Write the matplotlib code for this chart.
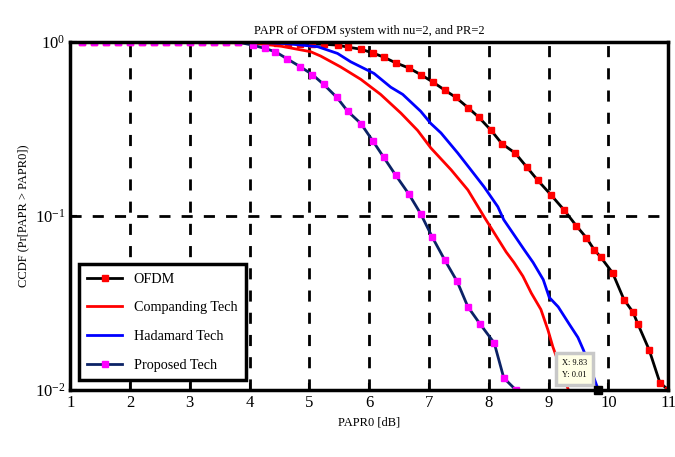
#!/usr/bin/python
# CCDF of PAPR for the four schemes
import numpy as np
import matplotlib
matplotlib.use("Agg")
import matplotlib.pyplot as plt

# OFDM (black line, red square markers)
ofdm_x = [1.2, 1.4, 1.6, 1.8, 2.0, 2.2, 2.4, 2.6, 2.8, 3.0, 3.2, 3.4, 3.6, 3.8, 4.05,
          4.25, 4.45, 4.65, 4.85, 5.05, 5.25, 5.47, 5.64, 5.86, 6.06, 6.24, 6.44, 6.66,
          6.86, 7.06, 7.26, 7.45, 7.65, 7.83, 8.04, 8.22, 8.44, 8.64, 8.82, 9.04, 9.26,
          9.46, 9.63, 9.76, 9.87, 10.07, 10.26, 10.41, 10.49, 10.68, 10.86, 11.0]
ofdm_y = [1.0, 1.0, 1.0, 1.0, 1.0, 1.0, 1.0, 1.0, 1.0, 1.0, 1.0, 1.0, 1.0, 1.0, 1.0,
          0.995, 0.99, 0.985, 0.98, 0.975, 0.97, 0.96, 0.935, 0.91, 0.865, 0.82, 0.76, 0.71,
          0.65, 0.59, 0.53, 0.48, 0.42, 0.37, 0.31, 0.26, 0.23, 0.19, 0.16, 0.132, 0.108,
          0.088, 0.075, 0.064, 0.058, 0.047, 0.033, 0.028, 0.024, 0.017, 0.011, 0.01]

# Companding technique (red)
comp_x = [1.2, 4.0, 4.5, 5.02, 5.19, 5.52, 5.86, 6.19, 6.53, 6.81, 7.03, 7.37, 7.65,
          7.92, 8.29, 8.42, 8.57, 8.71, 8.87, 8.99, 9.07, 9.21, 9.33]
comp_y = [1.0, 0.99, 0.95, 0.88, 0.83, 0.72, 0.61, 0.50, 0.39, 0.31, 0.246, 0.184, 0.141,
          0.099, 0.062, 0.054, 0.045, 0.036, 0.029, 0.022, 0.0177, 0.013, 0.01]

# Hadamard technique (blue)
had_x = [1.2, 4.0, 4.6, 5.14, 5.47, 5.69, 6.08, 6.36, 6.56, 6.86, 7.03, 7.20, 7.48, 7.70,
         7.92, 8.15, 8.25, 8.42, 8.59, 8.74, 8.91, 9.01, 9.16, 9.34, 9.49, 9.58, 9.71, 9.83]
had_y = [1.0, 1.0, 0.98, 0.94, 0.86, 0.77, 0.66, 0.55, 0.50, 0.40, 0.34, 0.30, 0.23, 0.184,
         0.147, 0.113, 0.095, 0.078, 0.064, 0.054, 0.043, 0.034, 0.030, 0.024, 0.020, 0.017,
         0.013, 0.01]

# Proposed technique (navy line, magenta markers)
prop_x = [1.2, 1.4, 1.6, 1.8, 2.0, 2.2, 2.4, 2.6, 2.8, 3.0, 3.2, 3.4, 3.6, 3.8, 4.05,
          4.25, 4.43, 4.63, 4.85, 5.05, 5.24, 5.46, 5.64, 5.86, 6.06, 6.24, 6.44, 6.66,
          6.86, 7.05, 7.26, 7.47, 7.65, 7.85, 8.09, 8.25, 8.45]
prop_y = [1.0, 1.0, 1.0, 1.0, 1.0, 1.0, 1.0, 1.0, 1.0, 1.0, 1.0, 1.0, 1.0, 1.0, 0.96,
          0.92, 0.88, 0.80, 0.72, 0.65, 0.57, 0.48, 0.40, 0.34, 0.27, 0.218, 0.172, 0.134,
          0.103, 0.076, 0.056, 0.042, 0.030, 0.024, 0.0186, 0.0117, 0.01]

# data tip shown on the figure
tip_x = 9.83
tip_y = 0.01

plt.rcParams['font.family'] = ['Liberation Serif', 'DejaVu Serif']

fig = plt.figure(figsize=(6.75, 4.57), dpi=100)
ax = fig.add_axes([0.104, 0.147, 0.886, 0.761])

ax.plot(ofdm_x, ofdm_y, '-s', color='black', lw=2, ms=5,
        mfc='red', mec='red', label='OFDM')
ax.plot(comp_x, comp_y, '-', color='red', lw=2, label='Companding Tech')
ax.plot(had_x, had_y, '-', color='blue', lw=2, label='Hadamard Tech')
ax.plot(prop_x, prop_y, '-s', color='#0b2266', lw=2, ms=5,
        mfc='magenta', mec='magenta', label='Proposed Tech')

# data tip
ax.plot([tip_x], [tip_y], 's', color='black', ms=6, clip_on=False, zorder=5)
ax.annotate('X: %.2f\nY: %.2f' % (tip_x, tip_y), xy=(tip_x, tip_y),
            xytext=(-17, 9), textcoords='offset points', fontsize=6,
            linespacing=1.7, ha='center',
            bbox=dict(boxstyle='square,pad=0.7', fc='#ffffe6', ec='#c8c8c8', lw=2.5))

ax.set_yscale('log')
ax.set_xlim(1, 11)
ax.set_ylim(0.01, 1)
ax.set_xticks(range(1, 12))
ax.set_yticks([0.01, 0.1, 1])
ax.yaxis.set_minor_locator(matplotlib.ticker.NullLocator())
ax.tick_params(direction='in', labelsize=12, width=1.5, length=5)
ax.grid(True, which='major', color='black', linestyle=(0, (4, 4)), lw=2)
for s in ax.spines.values():
    s.set_linewidth(2.5)

ax.set_title('PAPR of OFDM system with nu=2, and PR=2', fontsize=9)
ax.set_xlabel('PAPR0 [dB]', fontsize=9)
ax.set_ylabel('CCDF (Pr[PAPR > PAPR0])', fontsize=9)

leg = ax.legend(loc='lower left', bbox_to_anchor=(0.014, 0.028), fontsize=10.2,
                fancybox=False, framealpha=1, borderaxespad=0, handlelength=2.5,
                labelspacing=1.1, borderpad=0.6)
leg.get_frame().set_edgecolor('black')
leg.get_frame().set_linewidth(2.5)

fig.savefig('out.png', dpi=100)
